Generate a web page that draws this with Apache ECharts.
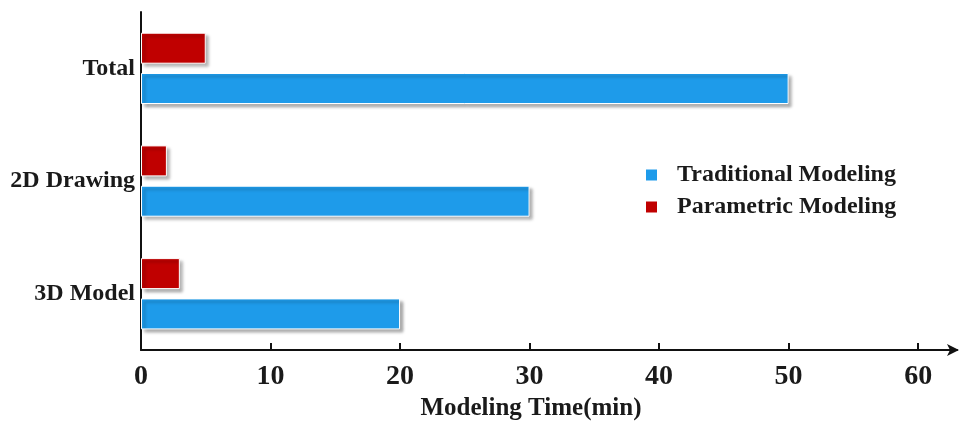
<!DOCTYPE html>
<html>
<head>
<meta charset="utf-8">
<script src="https://cdn.jsdelivr.net/npm/echarts@6/dist/echarts.min.js"></script>
<style>html,body{margin:0;padding:0;background:#fff}#c{width:971px;height:426px}</style>
</head>
<body>
<div id="c"></div>
<script>
const categories = ['3D Model', '2D Drawing', 'Total'];
const traditional = [20, 30, 50];
const parametric = [3, 2, 5];
const xTicks = [0, 10, 20, 30, 40, 50, 60];

const font = 'Liberation Serif';
const chart = echarts.init(document.getElementById('c'), null, {renderer: 'canvas'});
const shadow = {shadowColor: 'rgba(0,0,0,0.35)', shadowBlur: 3, shadowOffsetX: 3, shadowOffsetY: 3, borderColor: '#fff', borderWidth: 1};
chart.setOption({
  animation: false,
  backgroundColor: '#fff',
  grid: {left: 141, top: 12, right: 14, bottom: 71, containLabel: false},
  legend: {
    orient: 'vertical', left: 639, top: 158, itemWidth: 13, itemHeight: 13, itemGap: 8, icon: 'rect',
    textStyle: {fontFamily: font, fontWeight: 'bold', fontSize: 24, color: '#1a1a1a', padding: [0, 0, 0, 14]},
    data: ['Traditional Modeling', 'Parametric Modeling']
  },
  xAxis: {
    type: 'value', min: 0, max: 63, interval: 10,
    name: 'Modeling Time(min)', nameLocation: 'middle', nameGap: 45,
    nameTextStyle: {fontFamily: font, fontWeight: 'bold', fontSize: 25, color: '#1a1a1a', padding: [0, 36, 0, 0]},
    axisLine: {show: true, lineStyle: {color: '#111', width: 2}, symbol: ['none', 'arrow'], symbolSize: [9, 12], symbolOffset: [0, 2]},
    axisTick: {show: true, inside: true, length: 7, lineStyle: {color: '#111', width: 2}, customValues: xTicks},
    axisLabel: {fontFamily: font, fontWeight: 'bold', fontSize: 28, color: '#1a1a1a', margin: 13, customValues: xTicks},
    splitLine: {show: false}
  },
  yAxis: {
    type: 'category', data: categories,
    axisLine: {show: true, lineStyle: {color: '#111', width: 2}},
    axisTick: {show: false},
    axisLabel: {fontFamily: font, fontWeight: 'bold', fontSize: 24, color: '#1a1a1a', margin: 6}
  },
  series: [
    {name: 'Parametric Modeling', type: 'bar', data: parametric, barWidth: 31, barGap: '30%',
     itemStyle: Object.assign({color: '#C00000'}, shadow)},
    {name: 'Traditional Modeling', type: 'bar', data: traditional, barWidth: 31, barGap: '30%',
     itemStyle: Object.assign({color: '#1E9BEA'}, shadow)}
  ]
});
</script>
</body>
</html>
